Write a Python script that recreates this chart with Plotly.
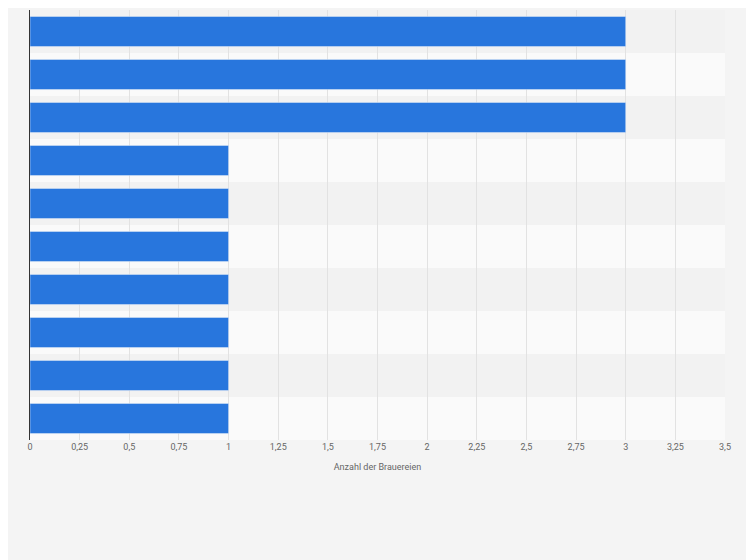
import plotly.graph_objects as go

categories = [f"B{i}" for i in range(1, 11)]
values = [3, 3, 3, 1, 1, 1, 1, 1, 1, 1]

fig = go.Figure(go.Bar(
    y=categories, x=values, orientation="h",
    marker_color="#2876dd", width=0.7, hoverinfo="x"))

shapes = []
for i, c in enumerate(categories):
    if i % 2 == 0:
        shapes.append(dict(type="rect", xref="paper", yref="y", x0=0, x1=1,
                           y0=i - 0.5, y1=i + 0.5, fillcolor="#f2f2f2",
                           line_width=0, layer="below"))

fig.update_layout(
    width=754, height=560,
    margin=dict(l=22, r=37, t=2, b=128),
    paper_bgcolor="#f4f4f4", plot_bgcolor="#fafafa",
    separators=",.",
    shapes=shapes,
    showlegend=False,
    font=dict(family="Roboto, Arial", size=9, color="#666"),
    xaxis=dict(range=[0, 3.5], dtick=0.25, tickformat=",.2~f",
               gridcolor="#e2e2e2", zeroline=False,
               title=dict(text="Anzahl der Brauereien", font=dict(size=9, color="#666"), standoff=12),
               ticks="", tickfont=dict(size=9, color="#666")),
    yaxis=dict(autorange="reversed", showticklabels=False, showgrid=False,
               showline=True, linecolor="#333", linewidth=1, zeroline=False),
)
fig.write_html("out.html", config={"displayModeBar": False})
